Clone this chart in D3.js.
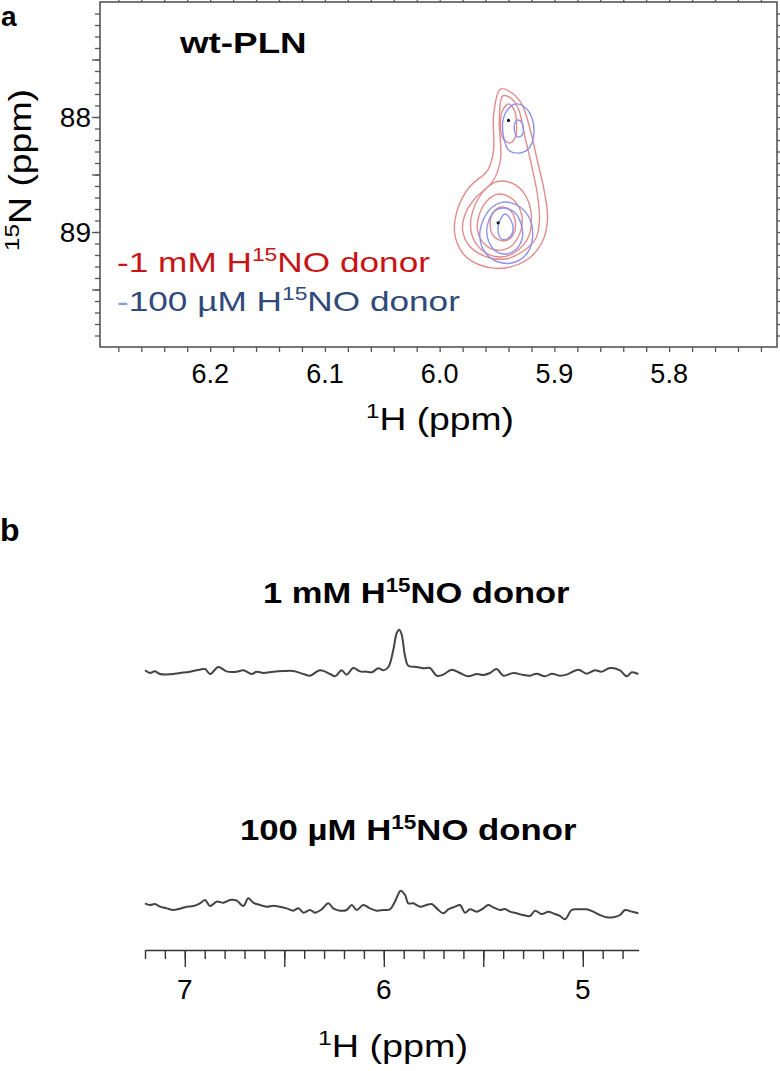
<!DOCTYPE html>
<html>
<head>
<meta charset="utf-8">
<script src="https://cdn.jsdelivr.net/npm/d3@7"></script>
<style>
  body { margin: 0; background: #fff; }
  text { font-family: Arial, "Liberation Sans", Helvetica, sans-serif; }
</style>
</head>
<body>
<div id="chart"></div>
<script>
// ---- panel a : 1H-15N contours (ppm) ----
// 1 mM donor (red) contour rings, [1H, 15N]
const redOuter = [[5.947,87.757],[5.937,87.791],[5.928,87.896],[5.921,88.113],[5.915,88.374],[5.909,88.635],[5.906,88.896],[5.911,89.096],[5.923,89.235],[5.943,89.313],[5.965,89.287],[5.980,89.183],[5.987,89.0],[5.984,88.791],[5.974,88.609],[5.958,88.461],[5.953,88.287],[5.953,87.983]];
const redMiddle = [[5.945,87.817],[5.937,87.843],[5.931,87.939],[5.926,88.157],[5.920,88.417],[5.915,88.661],[5.913,88.896],[5.916,89.052],[5.927,89.165],[5.943,89.235],[5.961,89.209],[5.974,89.122],[5.980,88.983],[5.977,88.826],[5.968,88.696],[5.954,88.565],[5.947,88.374],[5.948,88.026]];
const redLow1 = [[5.947,88.557],[5.934,88.591],[5.924,88.704],[5.920,88.870],[5.923,89.052],[5.934,89.174],[5.947,89.217],[5.961,89.174],[5.971,89.052],[5.973,88.913],[5.967,88.722],[5.956,88.591]];
const redLow2 = [[5.949,88.670],[5.939,88.696],[5.931,88.783],[5.928,88.913],[5.932,89.052],[5.940,89.139],[5.951,89.157],[5.961,89.104],[5.967,88.983],[5.965,88.835],[5.958,88.722]];
const redLow3 = [[5.946,88.783],[5.938,88.817],[5.934,88.913],[5.936,89.026],[5.944,89.078],[5.953,89.035],[5.956,88.930],[5.953,88.826]];
const redUpper = [[5.940,87.887],[5.935,87.939],[5.933,88.052],[5.934,88.174],[5.939,88.226],[5.945,88.183],[5.947,88.052],[5.945,87.939]];
// 100 uM donor (blue) contour rings
const blueUpperOuter = [[5.934,87.887],[5.925,87.922],[5.919,88.026],[5.918,88.157],[5.922,88.270],[5.930,88.313],[5.940,88.287],[5.944,88.183],[5.945,88.043],[5.941,87.939]];
const blueUpperInner = [[5.932,88.026],[5.928,88.052],[5.927,88.104],[5.928,88.157],[5.932,88.174],[5.934,88.148],[5.935,88.096],[5.934,88.043]];
const blueLowerOuter = [[5.943,88.739],[5.930,88.783],[5.921,88.896],[5.919,89.043],[5.923,89.174],[5.934,89.261],[5.949,89.261],[5.960,89.183],[5.965,89.043],[5.962,88.896],[5.954,88.783]];
const blueLowerMid = [[5.945,88.791],[5.935,88.826],[5.929,88.930],[5.928,89.052],[5.934,89.157],[5.945,89.191],[5.954,89.139],[5.959,89.0],[5.957,88.896],[5.952,88.817]];
const blueLowerInner = [[5.943,88.843],[5.938,88.896],[5.936,88.983],[5.940,89.052],[5.946,89.061],[5.949,89.0],[5.948,88.913]];
const peakCenters = [[5.940,88.03],[5.949,88.92]];

const hTicksA = [6.2, 6.1, 6.0, 5.9, 5.8];
const nTicksA = [88, 89];

// ---- panel b : 1D traces (relative intensity, peak of 1 mM = 100) ----
const ppm1 = [7.200,7.175,7.150,7.125,7.074,7.024,6.974,6.924,6.898,6.873,6.831,6.790,6.739,6.706,6.664,6.639,6.605,6.555,6.505,6.455,6.404,6.371,6.321,6.270,6.245,6.212,6.187,6.153,6.120,6.086,6.061,6.027,6.002,5.977,5.952,5.935,5.922,5.910,5.893,5.877,5.835,5.801,5.768,5.734,5.701,5.659,5.617,5.575,5.533,5.500,5.466,5.433,5.399,5.349,5.299,5.265,5.232,5.190,5.156,5.115,5.081,5.022,4.981,4.939,4.905,4.863,4.813,4.779,4.754,4.721];
const int1 = [6.2,0,3.8,-2.3,-3.1,0,3.1,7.7,9.2,-2.3,13.8,3.8,3.1,6.2,-2.3,3.1,0,3.1,4.6,4.6,-2.3,-6.2,6.2,-2.3,-7.7,6.2,-3.8,11.5,3.8,3.1,1.5,10.8,6.2,13.8,53.8,92.3,100,88.5,38.5,16.9,13.8,10.8,11.5,-6.2,-3.8,7.7,0,-7.7,-2.3,-4.6,0,9.2,-6.2,0,-4.6,-6.2,-1.5,-7.7,-1.5,-6.2,-3.8,7.7,-1.5,6.2,3.1,11.5,6.2,-7.7,1.5,-2.3];
const ppm2 = [7.200,7.175,7.150,7.125,7.091,7.058,7.024,6.991,6.957,6.924,6.898,6.873,6.840,6.806,6.773,6.739,6.706,6.681,6.656,6.622,6.589,6.555,6.522,6.488,6.455,6.429,6.404,6.371,6.346,6.312,6.279,6.254,6.220,6.187,6.161,6.136,6.103,6.069,6.036,6.002,5.969,5.944,5.915,5.893,5.877,5.852,5.818,5.785,5.759,5.734,5.701,5.676,5.642,5.617,5.592,5.567,5.533,5.500,5.475,5.450,5.416,5.391,5.366,5.332,5.299,5.265,5.240,5.207,5.173,5.148,5.115,5.089,5.056,5.022,4.981,4.947,4.914,4.880,4.847,4.813,4.788,4.754,4.721];
const int2 = [15.4,11.5,13.8,7.7,3.8,0,3.1,7.7,9.2,15.4,23.1,9.2,19.2,16.9,23.1,21.5,9.2,26.9,16.9,11.5,7.7,10,7.7,3.8,-1.5,3.8,-6.2,0,-6.2,1.5,15.4,3.8,-1.5,0,11.5,0,11.5,3.8,-1.5,0,1.5,19.2,44.6,34.6,15.4,15.4,7.7,11.5,13.8,3.8,-7.7,1.5,7.7,11.5,-6.2,1.5,-3.8,3.8,11.5,6.2,0,2.3,-3.8,-7.7,-11.5,-13.8,-1.5,-9.2,-3.8,-7.7,-13.8,-21.5,0,1.5,1.5,-3.8,-11.5,-16.9,-16.9,-11.5,0,-3.8,-7.7];
const hTicksB = [7, 6, 5];

const W = 780, H = 1071;
const axisColor = '#555';
const redLine = '#e28c8c', blueLine = '#8f92ea';

const svg = d3.select('#chart').append('svg')
  .attr('width', W).attr('height', H);

// text helpers: superscript tspans and horizontal fit to a measured width
function addParts(text, parts, fs) {
  let shift = 0;
  parts.forEach(p => {
    const t = text.append('tspan').text(p.t);
    const target = p.sup ? -fs * 0.38 : 0;
    t.attr('dy', target - shift);
    shift = target;
    if (p.sup) t.attr('font-size', fs * 0.65);
    if (p.fill) t.attr('fill', p.fill);
  });
}
function label(parts, opt) {
  const g = svg.append('g');
  const t = g.append('text')
    .attr('font-size', opt.fs)
    .attr('font-weight', opt.bold ? 'bold' : 'normal')
    .attr('fill', opt.fill || '#000');
  addParts(t, parts, opt.fs);
  const w = t.node().getBBox().width;
  const s = opt.width ? opt.width / w : 1;
  g.attr('transform', `translate(${opt.x},${opt.y})` + (opt.rotate ? ` rotate(${opt.rotate})` : '') + ` scale(${s},1)`);
  return g;
}

// ================= panel a =================
const hA = d3.scaleLinear([6.296, 5.706], [100, 777]);
const nA = d3.scaleLinear([87, 90], [2, 347]);

const minorH = d3.range(0, 29).map(i => +(6.28 - 0.02 * i).toFixed(2));
const minorN = d3.range(1, 30).map(i => +(87 + i / 10).toFixed(1));
const majorN = [87.5, 88, 88.5, 89, 89.5];

function styleAxis(g) {
  g.select('.domain').remove();
  g.selectAll('line').attr('stroke', axisColor).attr('stroke-width', 1.3);
  g.selectAll('text').remove();
}
svg.append('g').attr('transform', `translate(0,${nA(90)})`)
  .call(d3.axisBottom(hA).tickValues(minorH).tickSize(5).tickSizeOuter(0)).call(styleAxis);
svg.append('g').attr('transform', `translate(0,${nA(87)})`)
  .call(d3.axisTop(hA).tickValues(minorH).tickSize(4).tickSizeOuter(0)).call(styleAxis);
svg.append('g').attr('transform', `translate(${hA(6.296)},0)`)
  .call(d3.axisLeft(nA).tickValues(minorN).tickSize(5).tickSizeOuter(0)).call(styleAxis);
svg.append('g').attr('transform', `translate(${hA(6.296)},0)`)
  .call(d3.axisLeft(nA).tickValues(majorN).tickSize(8).tickSizeOuter(0)).call(styleAxis);
svg.append('g').attr('transform', `translate(${hA(5.706)},0)`)
  .call(d3.axisRight(nA).tickValues(minorN).tickSize(4).tickSizeOuter(0)).call(styleAxis);

svg.append('rect')
  .attr('x', hA(6.296)).attr('y', nA(87))
  .attr('width', hA(5.706) - hA(6.296)).attr('height', nA(90) - nA(87))
  .attr('fill', 'none').attr('stroke', axisColor).attr('stroke-width', 1.6);

// tick labels
svg.selectAll('.hlab').data(hTicksA).enter().append('text')
  .attr('x', d => hA(d)).attr('y', 383)
  .attr('text-anchor', 'middle').attr('font-size', 27)
  .text(d => d.toFixed(1));
svg.selectAll('.nlab').data(nTicksA).enter().append('text')
  .attr('x', 91).attr('y', d => nA(d) + 10)
  .attr('text-anchor', 'end').attr('font-size', 28)
  .text(d => d);

// contours
const ring = d3.line()
  .x(d => hA(d[0])).y(d => nA(d[1]))
  .curve(d3.curveCatmullRomClosed.alpha(0.5));
const cg = svg.append('g').attr('fill', 'none').attr('stroke-width', 1.4);
[redOuter, redMiddle, redLow1, redLow2, redLow3, redUpper].forEach(r =>
  cg.append('path').attr('d', ring(r)).attr('stroke', redLine));
[blueUpperOuter, blueUpperInner, blueLowerOuter, blueLowerMid, blueLowerInner].forEach(r =>
  cg.append('path').attr('d', ring(r)).attr('stroke', blueLine));
svg.selectAll('.pk').data(peakCenters).enter().append('circle')
  .attr('cx', d => hA(d[0])).attr('cy', d => nA(d[1]))
  .attr('r', 1.6).attr('fill', '#111');

// texts of panel a
label([{t: 'a'}], {x: 1, y: 26, fs: 28, bold: true});
label([{t: 'wt-PLN'}], {x: 180, y: 53, fs: 29, bold: true, width: 128});
label([{t: '-1 mM H'}, {t: '15', sup: true}, {t: 'NO donor'}],
  {x: 117, y: 272, fs: 28, fill: '#c81414', width: 313});
label([{t: '-', fill: '#7f9fd6'}, {t: '100 µM H'}, {t: '15', sup: true}, {t: 'NO donor'}],
  {x: 117, y: 311, fs: 28, fill: '#30497a', width: 343});
label([{t: '1', sup: true}, {t: 'H (ppm)'}], {x: 366, y: 430, fs: 32, width: 148});
label([{t: '15', sup: true}, {t: 'N (ppm)'}], {x: 31, y: 251, fs: 32, rotate: -90, width: 162});

// ================= panel b =================
const hB = d3.scaleLinear([7.2, 4.72], [145, 638.5]);
const yB1 = d3.scaleLinear([0, 100], [673, 629.7]);
const yB2 = d3.scaleLinear([0, 100], [910, 866.7]);

const trace = (yS) => d3.line()
  .x(d => hB(d[0])).y(d => yS(d[1]))
  .curve(d3.curveCatmullRom.alpha(0.5));
svg.append('path')
  .attr('d', trace(yB1)(d3.zip(ppm1, int1)))
  .attr('fill', 'none').attr('stroke', '#444').attr('stroke-width', 2);
svg.append('path')
  .attr('d', trace(yB2)(d3.zip(ppm2, int2)))
  .attr('fill', 'none').attr('stroke', '#444').attr('stroke-width', 2);

const minorB = d3.range(0, 25).map(i => +(7.2 - 0.1 * i).toFixed(1));
const majorB = [7, 6.5, 6, 5.5, 5];
svg.append('g').attr('transform', 'translate(0,950)')
  .call(d3.axisBottom(hB).tickValues(minorB).tickSize(9).tickSizeOuter(0).tickFormat(''))
  .call(g => {
    g.select('.domain').attr('stroke', '#333').attr('stroke-width', 1.6);
    g.selectAll('line').attr('stroke', '#333').attr('stroke-width', 1.4);
  });
svg.append('g').attr('transform', 'translate(0,950)')
  .call(d3.axisBottom(hB).tickValues(majorB).tickSize(17).tickSizeOuter(0).tickFormat(''))
  .call(g => {
    g.select('.domain').remove();
    g.selectAll('line').attr('stroke', '#333').attr('stroke-width', 1.4);
  });
svg.selectAll('.blab').data(hTicksB).enter().append('text')
  .attr('x', d => hB(d)).attr('y', 999)
  .attr('text-anchor', 'middle').attr('font-size', 28)
  .text(d => d);

label([{t: 'b'}], {x: 0, y: 541, fs: 32, bold: true});
label([{t: '1 mM H'}, {t: '15', sup: true}, {t: 'NO donor'}],
  {x: 263, y: 603, fs: 30, bold: true, width: 307});
label([{t: '100 µM H'}, {t: '15', sup: true}, {t: 'NO donor'}],
  {x: 240, y: 840, fs: 30, bold: true, width: 337});
label([{t: '1', sup: true}, {t: 'H (ppm)'}], {x: 318, y: 1057, fs: 32, width: 150});
</script>
</body>
</html>
